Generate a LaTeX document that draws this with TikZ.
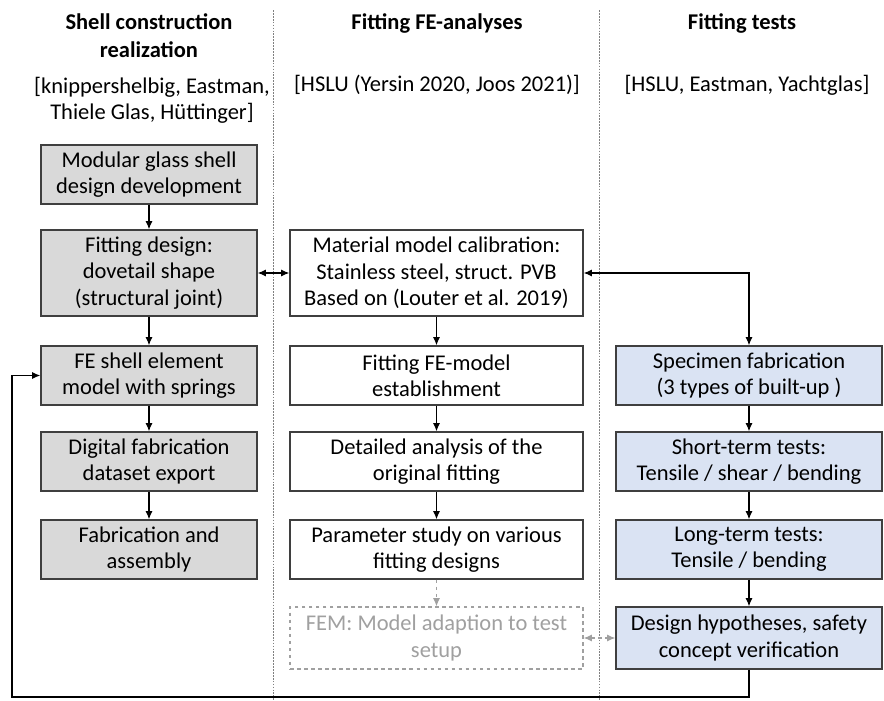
\documentclass[tikz,border=0pt]{standalone}
\usepackage{fontspec}
\setmainfont{Carlito}
\usetikzlibrary{arrows.meta}
\definecolor{boxgray}{HTML}{D9D9D9}
\definecolor{boxblue}{HTML}{DAE3F3}
\definecolor{edge}{HTML}{3F3F3F}
\definecolor{faint}{HTML}{A0A0A0}
\tikzset{
  txt/.style={font=\fontsize{19.2}{22.5}\selectfont, align=center, inner sep=0pt},
  head/.style={font=\fontsize{19.2}{24}\selectfont\bfseries, align=center, inner sep=0pt},
  box/.style={txt, draw=edge, line width=1.2pt, minimum height=1.77cm},
  shellbox/.style={box, fill=boxgray, minimum width=6.48cm},
  febox/.style={box, fill=white, minimum width=8.79cm},
  testbox/.style={box, fill=boxblue, minimum width=7.98cm},
  arr/.style={-{Latex[length=7pt,width=6pt]}, line width=0.9pt, draw=black},
  darr/.style={{Latex[length=7pt,width=6pt]}-{Latex[length=7pt,width=6pt]}, line width=0.9pt, draw=black},
  divider/.style={draw=gray, line width=0.7pt, dash pattern=on 1.5pt off 1pt}
}
\begin{document}
\begin{tikzpicture}[x=0.03cm, y=-0.03cm]
\useasboundingbox (0,0) rectangle (884,701);
% column separators
\draw[divider] (273,10) -- (273,701);
\draw[divider] (599,10) -- (599,701);
% headers
\node[head] (h1) at (149,36) {Shell construction\\realization};
\node[head] (h2) at (437,23) {Fitting FE-analyses};
\node[head] (h3) at (742,23) {Fitting tests};
\node[txt] (r1) at (152,100) {[knippershelbig, Eastman,\\Thiele Glas, Hüttinger]};
\node[txt] (r2) at (437,85) {[HSLU (Yersin 2020, Joos 2021)]};
\node[txt] (r3) at (747,85) {[HSLU, Eastman, Yachtglas]};
% shell construction
\node[shellbox] (mod) at (149,174.5) {Modular glass shell\\design development};
\node[shellbox, minimum height=2.58cm] (fit) at (149,273) {Fitting design:\\dovetail shape\\(structural joint)};
\node[shellbox] (shl) at (149,375.5) {FE shell element\\model with springs};
\node[shellbox] (dig) at (149,461.5) {Digital fabrication\\dataset export};
\node[shellbox] (fab) at (149,549.5) {Fabrication and\\assembly};
% FE analyses
\node[febox, minimum height=2.58cm] (mat) at (436.5,273) {Material model calibration:\\Stainless steel, struct. PVB\\Based on (Louter et al. 2019)};
\node[febox] (fem) at (436.5,375.5) {Fitting FE-model\\establishment};
\node[febox] (det) at (436.5,461.5) {Detailed analysis of the\\original fitting};
\node[febox] (par) at (436.5,549.5) {Parameter study on various\\fitting designs};
\node[febox, draw=faint, dashed, text=faint, minimum height=1.86cm] (adp) at (436.5,638) {FEM: Model adaption to test\\setup};
% tests
\node[testbox] (spc) at (749,375.5) {Specimen fabrication\\(3 types of built-up )};
\node[testbox] (sht) at (749,461.5) {Short-term tests:\\Tensile / shear / bending};
\node[testbox] (lng) at (749,549.5) {Long-term tests:\\Tensile / bending};
\node[testbox, minimum height=1.86cm] (hyp) at (749,638) {Design hypotheses, safety\\concept verification};
% connectors
\draw[arr] (mod) -- (fit);
\draw[arr] (fit) -- (shl);
\draw[arr] (shl) -- (dig);
\draw[arr] (dig) -- (fab);
\draw[arr] (mat) -- (fem);
\draw[arr] (fem) -- (det);
\draw[arr] (det) -- (par);
\draw[arr] (spc) -- (sht);
\draw[arr] (sht) -- (lng);
\draw[arr] (lng) -- (hyp);
\draw[darr] (fit) -- (mat);
\draw[darr] (mat.east) -| (spc.north);
\draw[arr, draw=faint, dashed, -{Latex[length=7pt,width=6pt,fill=faint]}] (par) -- (adp);
\draw[darr, draw=faint, dashed] (adp) -- (hyp);
\coordinate (lowR) at (749,697);
\coordinate (lowL) at (12,697);
\draw[arr] (hyp.south) -- (lowR) -- (lowL) |- (shl.west);
\end{tikzpicture}
\end{document}
